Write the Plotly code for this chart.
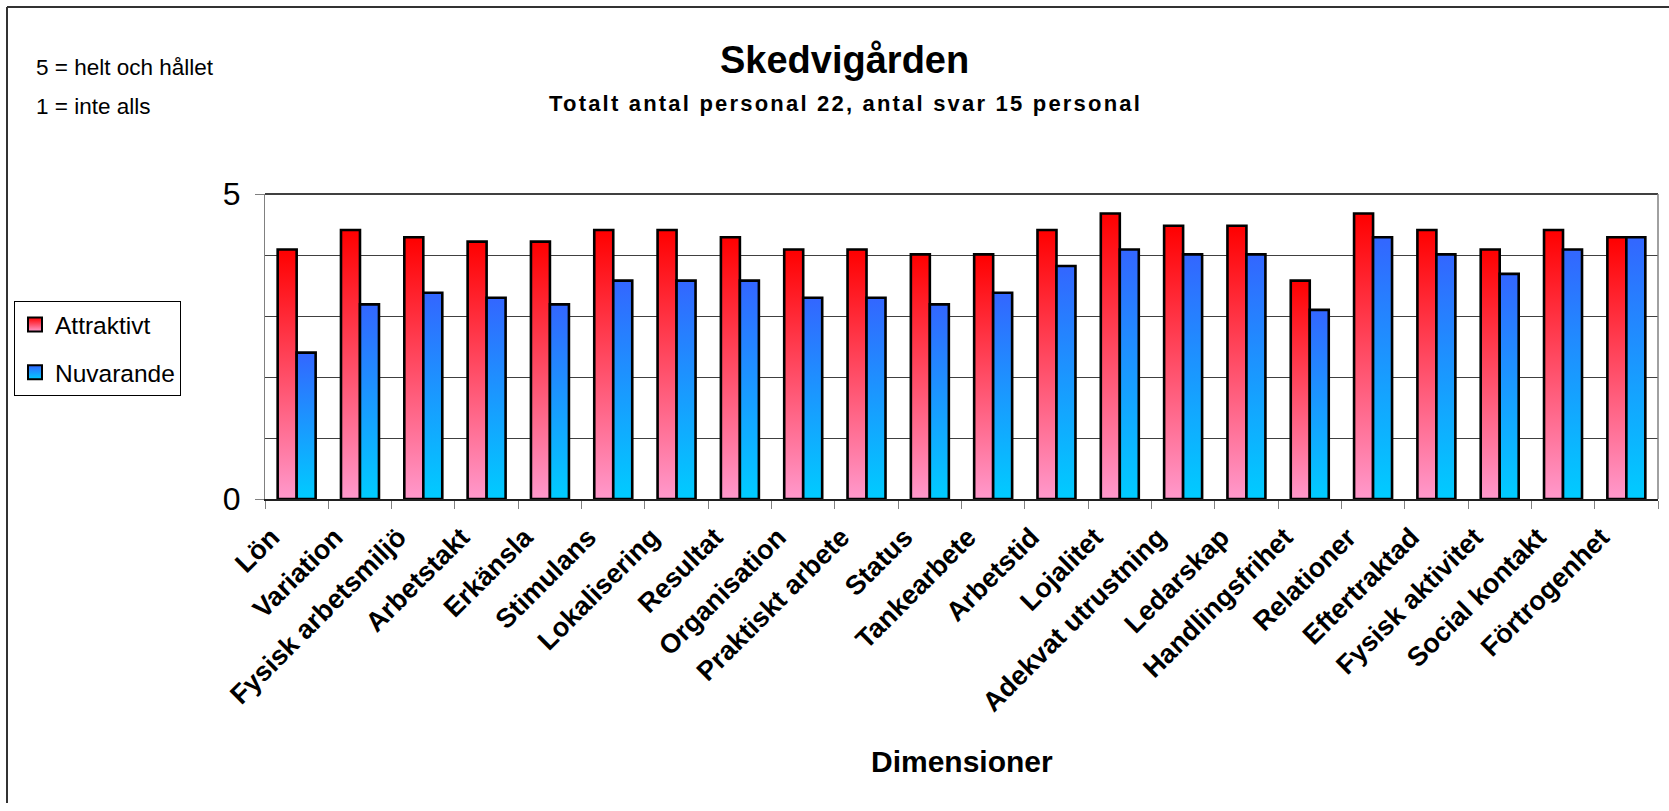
import plotly.graph_objects as go

categories = ["Lön", "Variation", "Fysisk arbetsmiljö", "Arbetstakt", "Erkänsla",
              "Stimulans", "Lokalisering", "Resultat", "Organisation", "Praktiskt arbete",
              "Status", "Tankearbete", "Arbetstid", "Lojalitet", "Adekvat utrustning",
              "Ledarskap", "Handlingsfrihet", "Relationer", "Eftertraktad",
              "Fysisk aktivitet", "Social kontakt", "Förtrogenhet"]
attraktivt = [4.09, 4.41, 4.29, 4.22, 4.22, 4.41, 4.41, 4.29, 4.09, 4.09, 4.01,
              4.01, 4.41, 4.68, 4.48, 4.48, 3.58, 4.68, 4.41, 4.09, 4.41, 4.29]
nuvarande = [2.40, 3.19, 3.38, 3.30, 3.19, 3.58, 3.58, 3.58, 3.30, 3.30, 3.19,
             3.38, 3.82, 4.09, 4.01, 4.01, 3.10, 4.29, 4.01, 3.69, 4.09, 4.29]
series_names = ["Attraktivt", "Nuvarande"]
title_text = "Skedvigården"
subtitle_text = "Totalt antal personal 22, antal svar 15 personal"
x_title = "Dimensioner"
note_lines = ["5 = helt och hållet", "1 = inte alls"]

FONT = "Liberation Sans, Arial, sans-serif"
FIG_W, FIG_H = 1669, 811
L, R, T, B = 265, 1658, 194, 499
W, H = R - L, B - T


def px_x(p):
    return (p - L) / W


def px_y(p):
    return (B - p) / H


fig = go.Figure()
BAR_W = 0.3
styles = [
    (series_names[0], attraktivt, -1, "#FF99CC", "#FF0000"),
    (series_names[1], nuvarande, 0, "#00CCFF", "#3366FF"),
]
for name, vals, side, c_bottom, c_top in styles:
    for i, v in enumerate(vals):
        x0 = i + side * BAR_W
        x1 = x0 + BAR_W
        fig.add_trace(go.Scatter(
            x=[x0, x0, x1, x1, x0], y=[0, v, v, 0, 0],
            mode="lines", fill="toself",
            fillgradient=dict(type="vertical", colorscale=[[0, c_bottom], [1, c_top]]),
            line=dict(color="black", width=2.6),
            showlegend=False, name=name,
            hoverinfo="text", hoveron="fills",
            text=f"{name} – {categories[i]}: {v:.2f}",
        ))
    # legend-only entry
    fig.add_trace(go.Scatter(
        x=[None], y=[None], mode="markers", name=name, legendgroup=name,
        marker=dict(symbol="square", size=14, color=c_top,
                    gradient=dict(type="vertical", color=c_bottom),
                    line=dict(color="black", width=2)),
    ))

fig.update_layout(
    width=FIG_W, height=FIG_H,
    margin=dict(l=L, r=FIG_W - R, t=T, b=FIG_H - B, autoexpand=False),
    paper_bgcolor="white", plot_bgcolor="white",
    font=dict(family=FONT, color="black"),
    showlegend=True,
    legend=dict(x=px_x(14), y=px_y(301), xanchor="left", yanchor="top",
                bordercolor="black", borderwidth=1, bgcolor="white",
                font=dict(family=FONT, size=24.5, color="black"),
                tracegroupgap=13, itemsizing="trace"),
    xaxis=dict(range=[-0.5, len(categories) - 0.5], tickmode="array",
               tickvals=list(range(len(categories))), ticktext=categories,
               tickangle=-45, ticks="", showgrid=False, zeroline=False,
               ticklabelshift=-25, ticklabelstandoff=10,
               tickfont=dict(family=FONT, size=27, weight="bold", color="black"),
               showline=True, linecolor="#202020", linewidth=1.5,
               minor=dict(tickmode="linear", tick0=-0.5, dtick=1, ticks="outside",
                          ticklen=8, tickcolor="#808080", tickwidth=1, showgrid=False)),
    yaxis=dict(range=[0, 5], tickmode="array", tickvals=[0, 5], ticktext=["0", "5"],
               ticks="outside", ticklen=9, tickcolor="#808080", showgrid=False,
               zeroline=False, showline=True, linecolor="#808080", linewidth=1,
               ticklabelstandoff=8,
               tickfont=dict(family=FONT, size=32, color="black"),
               minor=dict(tickmode="linear", tick0=0, dtick=1, showgrid=True,
                          gridcolor="#404040", gridwidth=1, ticks="")),
)

shapes = [
    # plot frame top and right
    dict(type="line", xref="paper", yref="paper", x0=0, x1=1, y0=1, y1=1,
         line=dict(color="black", width=1.5)),
    dict(type="line", xref="paper", yref="paper", x0=1, x1=1, y0=0, y1=1,
         line=dict(color="#808080", width=1.5)),
    # outer chart border (left and top)
    dict(type="line", xref="paper", yref="paper", x0=px_x(7), x1=px_x(7),
         y0=px_y(7), y1=px_y(803), line=dict(color="#333333", width=2)),
    dict(type="line", xref="paper", yref="paper", x0=px_x(7), x1=px_x(1672),
         y0=px_y(7), y1=px_y(7), line=dict(color="#333333", width=2)),
]
fig.update_layout(shapes=shapes)

annotations = [
    dict(text=f"<b>{title_text}</b>", x=px_x(844), y=px_y(60),
         font=dict(family=FONT, size=38, color="black")),
    dict(text=f"<b><span style='letter-spacing:2.2px'>{subtitle_text}</span></b>",
         x=px_x(845), y=px_y(104), font=dict(family=FONT, size=22, color="black")),
    dict(text=f"<b>{x_title}</b>", x=0.5, y=px_y(761),
         font=dict(family=FONT, size=30, color="black")),
    dict(text=note_lines[0], x=px_x(34), y=px_y(67), xanchor="left",
         font=dict(family=FONT, size=22.5, color="black")),
    dict(text=note_lines[1], x=px_x(34), y=px_y(106), xanchor="left",
         font=dict(family=FONT, size=22.5, color="black")),
]
for a in annotations:
    a.setdefault("xanchor", "center")
    a.update(xref="paper", yref="paper", yanchor="middle", showarrow=False)
fig.update_layout(annotations=annotations)

fig.write_html("out.html", config={"displayModeBar": False},
               post_script="document.body.style.margin='0';document.body.style.overflow='hidden';")
